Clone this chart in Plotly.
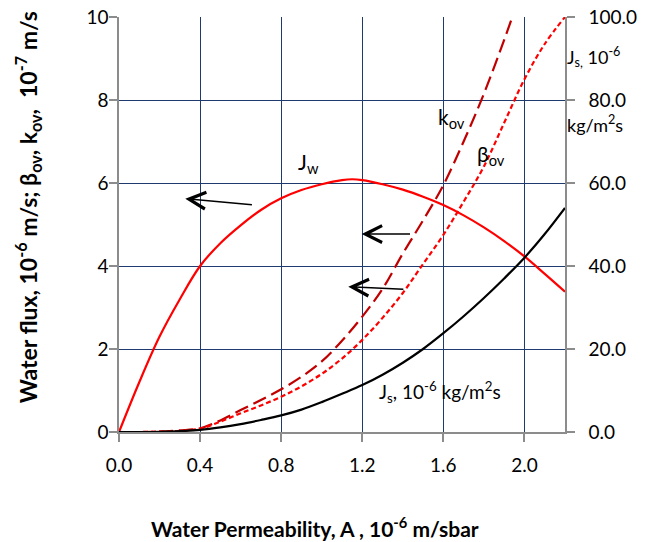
import plotly.graph_objects as go

# ---------------- data ----------------
A_jw = [0.0, 0.1, 0.2, 0.3, 0.4, 0.5, 0.6, 0.7, 0.8, 0.9, 1.0, 1.1, 1.15, 1.2,
        1.3, 1.4, 1.5, 1.6, 1.7, 1.8, 1.9, 2.0, 2.1, 2.2]
Jw = [0.0, 1.2, 2.3, 3.2, 4.0, 4.55, 4.98, 5.35, 5.63, 5.83, 5.97, 6.07, 6.09, 6.07,
      5.97, 5.84, 5.67, 5.47, 5.22, 4.93, 4.6, 4.23, 3.81, 3.38]

A_k = [0.0, 0.1, 0.2, 0.3, 0.4, 0.5, 0.6, 0.7, 0.8, 0.9, 1.0, 1.1, 1.2, 1.3,
       1.4, 1.5, 1.6, 1.7, 1.8, 1.9, 1.94]
k_ov = [0.0, 0.0, 0.01, 0.04, 0.09, 0.28, 0.53, 0.77, 1.03, 1.33, 1.70, 2.20, 2.78, 3.45,
        4.3, 5.1, 5.95, 7.0, 8.15, 9.45, 10.0]

A_b = [0.0, 0.1, 0.2, 0.3, 0.4, 0.5, 0.6, 0.7, 0.8, 0.9, 1.0, 1.1, 1.2, 1.3,
       1.4, 1.5, 1.6, 1.7, 1.8, 1.9, 2.0, 2.1, 2.2]
beta_ov = [0.0, 0.0, 0.01, 0.03, 0.08, 0.25, 0.45, 0.64, 0.85, 1.1, 1.4, 1.77, 2.22, 2.75,
           3.35, 4.05, 4.75, 5.55, 6.4, 7.45, 8.5, 9.35, 10.0]

A_js = [0.0, 0.1, 0.2, 0.3, 0.4, 0.5, 0.6, 0.7, 0.8, 0.9, 1.0, 1.1, 1.2, 1.3,
        1.4, 1.5, 1.6, 1.7, 1.8, 1.9, 2.0, 2.1, 2.2]
Js = [0.0, 0.0, 0.05, 0.2, 0.5, 1.1, 1.9, 2.9, 4.0, 5.4, 7.2, 9.2, 11.3, 13.8,
      16.7, 20.0, 23.8, 27.9, 32.3, 37.0, 42.0, 47.7, 54.0]

x_ticks = [0.0, 0.4, 0.8, 1.2, 1.6, 2.0]
y_ticks = [0, 2, 4, 6, 8, 10]
y2_ticks = [0, 20, 40, 60, 80, 100]

FONT = "Lato, 'Open Sans', sans-serif"
GRID = "#1f3a6e"
AXIS = "#8c8c8c"

fig = go.Figure()
fig.add_trace(go.Scatter(x=A_jw, y=Jw, mode="lines", line=dict(color="#ff0000", width=2.2, shape="spline", smoothing=1.0),
                         name="Jw", showlegend=False))
fig.add_trace(go.Scatter(x=A_k, y=k_ov, mode="lines", line=dict(color="#c00000", width=2.2, dash="14px,6px", shape="spline", smoothing=1.0),
                         name="kov", showlegend=False))
fig.add_trace(go.Scatter(x=A_b, y=beta_ov, mode="lines", line=dict(color="#ff0000", width=2.2, dash="5px,3px", shape="spline", smoothing=1.0),
                         name="βov", showlegend=False))
fig.add_trace(go.Scatter(x=A_js, y=Js, mode="lines", line=dict(color="#000000", width=2.2, shape="spline", smoothing=1.0),
                         name="Js", yaxis="y2", showlegend=False))

tickfont = dict(family=FONT, size=19, color="#000000")

fig.update_layout(
    width=655, height=542,
    margin=dict(l=119, r=90, t=17, b=110, autoexpand=False),
    paper_bgcolor="white", plot_bgcolor="white",
    font=dict(family=FONT, color="#000000"),
    xaxis=dict(range=[0, 2.2], tickvals=x_ticks, tickformat=".1f", automargin=False,
               showgrid=True, gridcolor=GRID, gridwidth=1, zeroline=False,
               showline=True, linecolor=AXIS, linewidth=1.5,
               ticks="outside", ticklen=8, tickcolor=AXIS, tickwidth=1.5,
               ticklabelstandoff=7, tickfont=tickfont, mirror=False, ticklabeloverflow="allow"),
    yaxis=dict(range=[0, 10], tickvals=y_ticks, automargin=False,
               showgrid=True, gridcolor=GRID, gridwidth=1, zeroline=False,
               showline=True, linecolor=AXIS, linewidth=1.5,
               ticks="outside", ticklen=8, tickcolor=AXIS, tickwidth=1.5,
               ticklabelstandoff=-3, tickfont=tickfont, ticklabeloverflow="allow"),
    yaxis2=dict(range=[0, 100], tickvals=y2_ticks, tickformat=".1f", automargin=False,
                overlaying="y", side="right", showgrid=False, zeroline=False,
                showline=True, linecolor=AXIS, linewidth=1.5,
                ticks="outside", ticklen=8, tickcolor=AXIS, tickwidth=1.5,
                ticklabelstandoff=10, tickfont=tickfont, ticklabeloverflow="allow"),
)

ytitle_font = dict(family=FONT, size=23, color="#000000")
xtitle_font = dict(family=FONT, size=21, color="#000000")
reg = dict(family=FONT, size=19, color="#000000")
side = dict(family=FONT, size=18, color="#000000")
big = dict(family=FONT, size=21, color="#000000")

annotations = [
    # axis titles
    dict(text="<b>Water flux, 10<sup>-6</sup> m/s; β<sub>ov</sub>, k<sub>ov</sub>,  10<sup>-7</sup> m/s</b>",
         xref="paper", yref="paper", x=-0.206, y=0.542, xanchor="center", yanchor="middle",
         textangle=-90, showarrow=False, font=ytitle_font),
    dict(text="<b>Water Permeability, A , 10<sup>-6</sup> m/sbar</b>",
         xref="paper", yref="paper", x=0.439, y=-0.229, xanchor="center", yanchor="middle",
         showarrow=False, font=xtitle_font),
    dict(text="J<sub>s,</sub> 10<sup>-6</sup>", xref="paper", yref="paper", x=1.0, y=0.904,
         xanchor="left", yanchor="middle", showarrow=False, font=side),
    dict(text="kg/m<sup>2</sup>s", xref="paper", yref="paper", x=1.0, y=0.742,
         xanchor="left", yanchor="middle", showarrow=False, font=side),
    # curve labels
    dict(text="J<sub>w</sub>", x=0.934, y=6.48, showarrow=False, font=big),
    dict(text="k<sub>ov</sub>", x=1.64, y=7.56, showarrow=False, font=big),
    dict(text="β<sub>ov</sub>", x=1.837, y=6.68, showarrow=False, font=big),
    dict(text="J<sub>s</sub>, 10<sup>-6</sup> kg/m<sup>2</sup>s", x=1.583, y=0.97, showarrow=False, font=reg),
]
arrows = [((0.327, 5.62), (0.663, 5.47)),
          ((1.197, 4.77), (1.443, 4.77)),
          ((1.131, 3.50), (1.41, 3.44))]
for (hx, hy), (tx, ty) in arrows:
    annotations.append(dict(x=hx, y=hy, ax=tx, ay=ty, xref="x", yref="y", axref="x", ayref="y",
                            text="", showarrow=True, arrowhead=5, arrowsize=2.2, arrowwidth=1.5,
                            arrowcolor="#000000", standoff=0))
fig.update_layout(annotations=annotations)

fig.write_html("out.html", config={"displayModeBar": False},
               post_script="document.body.style.margin='0';")
